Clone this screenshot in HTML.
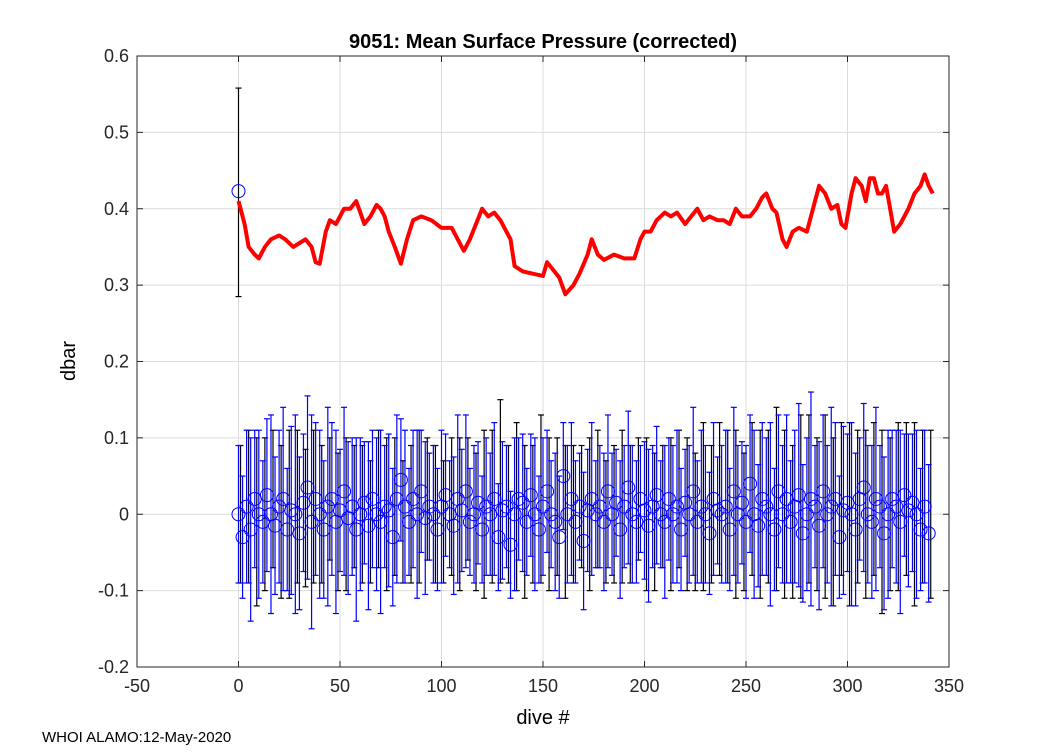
<!DOCTYPE html>
<html><head><meta charset="utf-8"><style>
body{margin:0;background:#fff;}
text{font-family:"Liberation Sans",Arial,sans-serif;}
</style></head><body>
<svg id="chart" width="1050" height="750" xmlns="http://www.w3.org/2000/svg">
<rect width="1050" height="750" fill="#fff"/>
<g id="grid"></g>
<g id="marks"></g>
<g id="axes"></g>
<text x="543" y="48" text-anchor="middle" font-size="20" font-weight="bold">9051: Mean Surface Pressure (corrected)</text>
<text x="543" y="724" text-anchor="middle" font-size="20">dive #</text>
<text x="75" y="361" text-anchor="middle" font-size="20" transform="rotate(-90 75 361)">dbar</text>
<text x="42" y="742" font-size="15">WHOI ALAMO:12-May-2020</text>
</svg>
<script>
const xTicks=[-50,0,50,100,150,200,250,300,350];
const yTicks=[-0.2,-0.1,0,0.1,0.2,0.3,0.4,0.5,0.6];
const yTickLabels=["-0.2","-0.1","0","0.1","0.2","0.3","0.4","0.5","0.6"];
const redDives=[0,3,5,8,10,13,16,20,23,27,30,33,36,38,40,43,45,48,52,55,58,60,62,65,68,70,72,74,77,80,83,86,90,95,100,105,108,111,114,117,120,123,126,129,132,134,136,140,145,150,152,155,158,161,165,168,172,174,177,180,185,190,195,198,200,203,206,210,213,216,220,223,226,229,232,236,239,242,245,248,252,255,258,260,263,265,268,270,273,276,280,283,286,289,292,295,297,299,302,304,307,309,311,313,315,317,319,321,323,326,330,333,336,338,340,342];
const redVals=[0.41,0.38,0.35,0.34,0.335,0.35,0.36,0.365,0.36,0.35,0.355,0.36,0.35,0.33,0.328,0.37,0.385,0.38,0.40,0.40,0.41,0.395,0.38,0.39,0.405,0.40,0.39,0.37,0.35,0.328,0.36,0.385,0.39,0.385,0.375,0.375,0.36,0.345,0.36,0.38,0.40,0.39,0.395,0.385,0.37,0.36,0.325,0.318,0.315,0.312,0.33,0.32,0.31,0.288,0.30,0.315,0.34,0.36,0.34,0.333,0.34,0.335,0.335,0.36,0.37,0.37,0.385,0.395,0.39,0.395,0.38,0.39,0.40,0.385,0.39,0.385,0.385,0.38,0.40,0.39,0.39,0.40,0.415,0.42,0.40,0.395,0.36,0.35,0.37,0.375,0.37,0.40,0.43,0.42,0.40,0.405,0.38,0.375,0.42,0.44,0.43,0.41,0.44,0.44,0.42,0.42,0.43,0.40,0.37,0.38,0.40,0.42,0.43,0.445,0.43,0.42];
const firstDive=[0];const firstVal=[0.423];const firstErrLo=[0.285];const firstErrHi=[0.558];
const blueVals=[0,-0.03,0.01,-0.02,0.02,0.0,-0.01,0.025,0.0,-0.015,
0.01,0.02,-0.02,0.005,0.0,-0.025,0.015,0.035,-0.01,0.02,
0.0,-0.02,0.01,0.02,-0.01,0.005,0.03,-0.005,0.01,-0.02,
0.0,0.015,-0.015,0.02,0.0,-0.01,0.01,0.005,-0.03,0.02,
0.045,0.01,-0.01,0.02,0.0,0.03,-0.005,0.01,0.0,-0.02,
0.01,0.025,0.0,-0.015,0.02,0.005,0.03,-0.01,0.0,0.015,
-0.02,0.01,0.0,0.02,-0.03,0.005,0.01,-0.04,0.0,0.02,
0.015,-0.01,0.025,0.0,-0.02,0.01,0.03,0.0,-0.01,-0.03,
0.05,0.0,0.02,-0.01,0.01,-0.035,0.005,0.02,0.0,0.01,
-0.01,0.03,0.0,0.015,-0.02,0.01,0.035,0.0,-0.01,0.02,
0.005,-0.015,0.01,0.025,0.0,-0.01,0.02,0.0,0.01,-0.02,
0.015,0.0,0.03,-0.01,0.01,0.0,-0.025,0.02,0.005,0.0,
0.01,-0.02,0.03,0.0,0.015,-0.01,0.04,0.0,-0.015,0.02,
0.01,0.0,-0.02,0.03,0.0,0.02,-0.01,0.01,0.025,-0.025,
0.0,0.02,0.01,-0.015,0.03,0.0,0.01,0.02,-0.03,0.005,
0.015,0.0,-0.02,0.02,0.035,0.0,-0.01,0.02,0.01,-0.025,
0.0,0.02,0.01,-0.01,0.025,0.005,0.015,0.0,-0.02,0.01,
-0.025];
const blueErrs=[0.09,0.08,0.1,0.12,0.09,0.11,0.08,0.1,0.13,0.09,
0.1,0.12,0.08,0.11,0.13,0.1,0.09,0.12,0.14,0.1,
0.11,0.09,0.13,0.1,0.12,0.08,0.11,0.1,0.09,0.12,
0.1,0.08,0.11,0.09,0.1,0.12,0.08,0.1,0.09,0.11,
0.08,0.1,0.07,0.09,0.11,0.08,0.1,0.07,0.09,0.08,
0.1,0.08,0.07,0.09,0.11,0.08,0.1,0.07,0.09,0.08,
0.07,0.09,0.08,0.1,0.07,0.09,0.08,0.07,0.1,0.08,
0.09,0.07,0.08,0.1,0.07,0.09,0.08,0.07,0.09,0.08,
0.07,0.09,0.1,0.08,0.07,0.09,0.08,0.1,0.07,0.08,
0.09,0.1,0.08,0.07,0.09,0.08,0.1,0.09,0.08,0.07,
0.09,0.1,0.08,0.09,0.07,0.1,0.08,0.09,0.1,0.08,
0.07,0.09,0.11,0.08,0.1,0.09,0.08,0.1,0.07,0.09,
0.1,0.08,0.11,0.09,0.08,0.1,0.09,0.11,0.08,0.1,
0.09,0.12,0.08,0.1,0.09,0.11,0.08,0.1,0.12,0.09,
0.1,0.14,0.08,0.11,0.1,0.09,0.13,0.1,0.08,0.11,
0.09,0.12,0.1,0.08,0.11,0.09,0.1,0.12,0.08,0.1,
0.11,0.09,0.1,0.12,0.08,0.1,0.09,0.11,0.08,0.1,
0.09];
const blackVals=[0.0,0.01,-0.01,0.0,0.02,-0.01,0.0,0.01,-0.005,0.01,
0.0,0.02,-0.01,0.0,0.01,0.0,-0.01,0.02,0.0,0.01,
-0.01,0.0,0.01,0.02,0.0,-0.01,0.01,0.0,0.02,-0.01,
0.0,0.01,0.03,0.0,0.01,-0.01,0.0,0.02,0.0,0.01,
-0.01,0.0,0.01,0.0,0.02,-0.01,0.0,0.01,0.0,0.02,
0.0,-0.01,0.01,0.0,0.02,0.0,-0.01,0.01,0.0,0.02,
0.01,0.0,-0.01,0.02,0.0,0.01,0.02,0.0,-0.01,0.01,
0.02,0.0,0.01,-0.01,0.02,0.0,0.01,0.0,0.02,-0.01,
0.0,0.01,0.02,0.0,0.01,0.0];
const blackErrs=[0.09,0.1,0.11,0.1,0.09,0.1,0.11,0.1,0.09,0.1,
0.09,0.08,0.09,0.1,0.08,0.09,0.08,0.09,0.1,0.09,
0.08,0.09,0.1,0.08,0.09,0.08,0.09,0.1,0.08,0.09,
0.11,0.1,0.12,0.09,0.11,0.1,0.09,0.11,0.1,0.09,
0.1,0.09,0.08,0.1,0.09,0.08,0.09,0.1,0.09,0.08,
0.1,0.09,0.08,0.1,0.09,0.1,0.09,0.11,0.09,0.1,
0.1,0.11,0.09,0.1,0.11,0.1,0.12,0.11,0.1,0.12,
0.11,0.1,0.12,0.11,0.1,0.12,0.1,0.11,0.1,0.12,
0.1,0.11,0.1,0.12,0.1,0.11];
const L=137,R=949,T=56,B=667,xMin=-50,xMax=350,yMin=-0.2,yMax=0.6;
const sx=v=>L+(v-xMin)/(xMax-xMin)*(R-L);
const sy=v=>B-(v-yMin)/(yMax-yMin)*(B-T);
const NS="http://www.w3.org/2000/svg";
function mk(tag,attrs,parent){const e=document.createElementNS(NS,tag);for(const k in attrs)e.setAttribute(k,attrs[k]);parent.appendChild(e);return e;}
const grid=document.getElementById('grid'),marks=document.getElementById('marks'),axes=document.getElementById('axes');
xTicks.forEach(t=>{const g=mk('line',{x1:sx(t),x2:sx(t),y1:T,y2:B,stroke:'#dcdcdc','stroke-width':1},grid);


const tx=mk('text',{x:sx(t),y:B+25,'text-anchor':'middle','font-size':18,fill:'#262626'},axes);tx.textContent=t;


mk('line',{x1:sx(t),x2:sx(t),y1:B,y2:B-6,stroke:'#262626'},axes);mk('line',{x1:sx(t),x2:sx(t),y1:T,y2:T+6,stroke:'#262626'},axes);});
yTicks.forEach((t,i)=>{const g=mk('line',{x1:L,x2:R,y1:sy(t),y2:sy(t),stroke:'#dcdcdc','stroke-width':1},grid);


const tx=mk('text',{x:L-8,y:sy(t)+6,'text-anchor':'end','font-size':18,fill:'#262626'},axes);tx.textContent=yTickLabels[i];


mk('line',{x1:L,x2:L+6,y1:sy(t),y2:sy(t),stroke:'#262626'},axes);mk('line',{x1:R,x2:R-6,y1:sy(t),y2:sy(t),stroke:'#262626'},axes);});
const fr=mk('rect',{x:L,y:T,width:R-L,height:B-T,fill:'none',stroke:'#262626','stroke-width':1},axes);


function errbar(x,lo,hi,col,name){const g=mk('g',{stroke:col,'stroke-width':1.2},marks);


const X=sx(x);mk('line',{x1:X,x2:X,y1:sy(lo),y2:sy(hi)},g);mk('line',{x1:X-3,x2:X+3,y1:sy(lo),y2:sy(lo)},g);mk('line',{x1:X-3,x2:X+3,y1:sy(hi),y2:sy(hi)},g);}
blackVals.forEach((v,i)=>errbar(1+i*4,v-blackErrs[i],v+blackErrs[i],'#000','black-error-bar'));
blueVals.forEach((v,i)=>errbar(i*2,v-blueErrs[i],v+blueErrs[i],'#0000ff','blue-error-bar'));
blueVals.forEach((v,i)=>{const c=mk('circle',{cx:sx(i*2),cy:sy(v),r:6.5,fill:'none',stroke:'#0000ff','stroke-width':1},marks);

});
firstDive.forEach((d,i)=>{errbar(d,firstErrLo[i],firstErrHi[i],'#000','first-error-bar');
const c=mk('circle',{cx:sx(d),cy:sy(firstVal[i]),r:6.5,fill:'none',stroke:'#0000ff','stroke-width':1},marks);

});
const p=mk('polyline',{points:redDives.map((d,i)=>sx(d)+','+sy(redVals[i])).join(' '),fill:'none',stroke:'#ff0000','stroke-width':4,'stroke-linejoin':'round'},marks);


</script>
</body></html>
